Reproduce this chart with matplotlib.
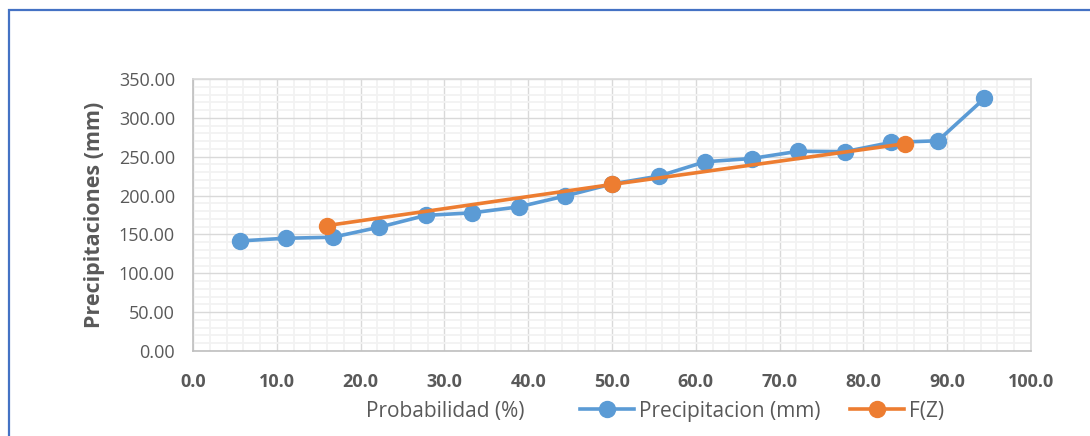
import numpy as np
import matplotlib
matplotlib.use("Agg")
import matplotlib.pyplot as plt
from matplotlib.ticker import MultipleLocator, FormatStrFormatter
from matplotlib.patches import Rectangle

plt.rcParams['font.family'] = ['Open Sans', 'DejaVu Sans']

# probabilidad (%) y precipitacion (mm)
prob = [5.56, 11.11, 16.67, 22.22, 27.78, 33.33, 38.89, 44.44, 50.00,
        55.56, 61.11, 66.67, 72.22, 77.78, 83.33, 88.89, 94.44]
precip = [141.6, 145.1, 146.4, 159.3, 174.5, 177.8, 185.5, 199.5, 215.0,
          225.0, 243.5, 247.7, 257.0, 256.5, 268.4, 270.5, 325.0]

# F(Z)
fz_prob = [16.0, 50.0, 85.0]
fz_precip = [161.4, 214.3, 266.8]

gray = '#595959'
blue = '#5B9BD5'
orange = '#ED7D31'

fig = plt.figure(figsize=(10.9, 4.36), dpi=100)
fig.patch.set_facecolor('white')

# chart frame
fig.patches.append(Rectangle((9 / 1090, -0.2), 1.2, 1.2 - 10 / 436,
                             transform=fig.transFigure, fill=False,
                             edgecolor='#4472C4', lw=1.6))

ax = fig.add_axes([193 / 1090, 1 - 351 / 436, (1031 - 193) / 1090, (351 - 79) / 436])

ax.plot(prob, precip, color=blue, lw=2.6, marker='o', ms=11.5,
        label='Precipitacion (mm)', zorder=3)
ax.plot(fz_prob, fz_precip, color=orange, lw=2.6, marker='o', ms=11.5,
        label='F(Z)', zorder=4)

ax.set_xlim(0, 100)
ax.set_ylim(0, 350)
ax.xaxis.set_major_locator(MultipleLocator(10))
ax.xaxis.set_minor_locator(MultipleLocator(2))
ax.yaxis.set_major_locator(MultipleLocator(50))
ax.yaxis.set_minor_locator(MultipleLocator(10))
ax.xaxis.set_major_formatter(FormatStrFormatter('%.1f'))
ax.yaxis.set_major_formatter(FormatStrFormatter('%.2f'))

ax.grid(which='minor', color='#F2F2F2', lw=1.3, zorder=0)
ax.grid(which='major', color='#D9D9D9', lw=1.0, zorder=1)
ax.set_axisbelow(True)
for s in ax.spines.values():
    s.set_color('#D9D9D9')
    s.set_linewidth(1.2)
ax.spines['left'].set_color('#BFBFBF')
ax.spines['bottom'].set_color('#BFBFBF')

ax.tick_params(which='both', length=0)
ax.tick_params(axis='y', labelsize=13, labelcolor=gray, pad=13)
ax.tick_params(axis='x', labelsize=13, labelcolor=gray, pad=16)
for t in ax.get_xticklabels():
    t.set_fontweight('bold')

ax.set_ylabel('Precipitaciones (mm)', fontsize=15.5, fontweight='bold',
              color=gray, labelpad=10)

fig.text(445 / 1090, 1 - 411 / 436, 'Probabilidad (%)', fontsize=15,
         color=gray, ha='center', va='center')

leg = ax.legend(loc='center', bbox_to_anchor=(762 / 1090, 1 - 411 / 436),
                bbox_transform=fig.transFigure, ncol=2, frameon=False,
                fontsize=15, handlelength=2.6, handletextpad=0.2,
                columnspacing=1.45, borderpad=0)
for t in leg.get_texts():
    t.set_color(gray)

fig.savefig('out.png', dpi=100)
